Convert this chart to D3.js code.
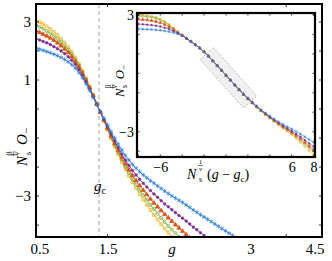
<!DOCTYPE html>
<html>
<head>
<meta charset="utf-8">
<script src="https://cdnjs.cloudflare.com/ajax/libs/d3/7.8.5/d3.min.js"></script>
<style>
  body { margin: 0; background: #fff; }
  svg { display: block; font-family: "Liberation Serif", "Times New Roman", serif; }
</style>
</head>
<body>
<svg id="chart" width="332" height="261"></svg>
<script>
// main panel: g grid and N_s^{beta/nu} O_- for five system sizes
const gGrid = [0.45, 0.50, 0.55, 0.60, 0.65, 0.70, 0.75, 0.80, 0.85, 0.90, 0.95, 1.00, 1.05, 1.10, 1.15,
  1.20, 1.25, 1.30, 1.35, 1.40, 1.45, 1.50, 1.55, 1.60, 1.65, 1.70, 1.75, 1.80, 1.85, 1.90, 1.95,
  2.00, 2.05, 2.10, 2.15, 2.20, 2.25, 2.30, 2.35, 2.40, 2.45, 2.50, 2.55, 2.60, 2.65, 2.70, 2.75,
  2.80, 2.85, 2.90, 2.95, 3.00, 3.05, 3.10, 3.15, 3.20, 3.25, 3.30, 3.35];
const mainYellow = [3.11, 3.06, 3.00, 2.93, 2.85, 2.76, 2.66, 2.55, 2.43, 2.29, 2.14, 1.97, 1.78, 1.56, 1.32,
  1.06, 0.78, 0.49, 0.19, -0.12, -0.42, -0.72, -1.02, -1.30, -1.57, -1.83, -2.07, -2.30, -2.52, -2.73,
  -2.93, -3.12, -3.30, -3.48, -3.65, -3.81, -3.97, -4.12, -4.27, -4.41, -4.55];
const mainGreen = [2.94, 2.89, 2.83, 2.77, 2.69, 2.61, 2.52, 2.42, 2.31, 2.19, 2.05, 1.89, 1.71, 1.51, 1.28,
  1.03, 0.75, 0.47, 0.18, -0.11, -0.40, -0.69, -0.98, -1.25, -1.51, -1.75, -1.99, -2.20, -2.41, -2.61,
  -2.79, -2.97, -3.13, -3.30, -3.45, -3.60, -3.75, -3.89, -4.03, -4.15, -4.28, -4.41, -4.53];
const mainRed = [2.74, 2.70, 2.64, 2.58, 2.52, 2.45, 2.37, 2.28, 2.18, 2.07, 1.95, 1.80, 1.64, 1.45, 1.23,
  0.99, 0.73, 0.46, 0.17, -0.11, -0.38, -0.66, -0.93, -1.19, -1.43, -1.67, -1.89, -2.09, -2.29, -2.47,
  -2.64, -2.80, -2.95, -3.10, -3.24, -3.37, -3.50, -3.63, -3.75, -3.87, -3.99, -4.10, -4.21, -4.33,
  -4.44, -4.55];
const mainPurple = [2.47, 2.43, 2.38, 2.33, 2.28, 2.22, 2.15, 2.08, 2.00, 1.91, 1.80, 1.68, 1.54, 1.36, 1.16,
  0.93, 0.69, 0.43, 0.16, -0.10, -0.35, -0.61, -0.86, -1.10, -1.33, -1.55, -1.76, -1.94, -2.12, -2.27,
  -2.42, -2.56, -2.69, -2.81, -2.93, -3.04, -3.16, -3.27, -3.37, -3.47, -3.57, -3.67, -3.76, -3.86,
  -3.96, -4.07, -4.16, -4.26, -4.36, -4.45, -4.55];
const mainBlue = [2.14, 2.10, 2.06, 2.02, 1.98, 1.94, 1.89, 1.84, 1.78, 1.71, 1.63, 1.53, 1.41, 1.26, 1.08,
  0.87, 0.64, 0.40, 0.15, -0.09, -0.32, -0.55, -0.78, -1.00, -1.21, -1.41, -1.60, -1.76, -1.91, -2.04,
  -2.16, -2.27, -2.37, -2.47, -2.56, -2.65, -2.74, -2.83, -2.91, -2.99, -3.07, -3.15, -3.22, -3.31,
  -3.39, -3.48, -3.56, -3.64, -3.72, -3.80, -3.88, -3.96, -4.04, -4.12, -4.20, -4.28, -4.36, -4.44, -4.52];

// inset: scaled variable N_s^{1/nu}(g - g_c)
const vGrid = [-8.4, -8.0, -7.6, -7.2, -6.8, -6.4, -6.0, -5.6, -5.2, -4.8, -4.4, -4.0, -3.6, -3.2, -2.8,
  -2.4, -2.0, -1.6, -1.2, -0.8, -0.4, 0.0, 0.4, 0.8, 1.2, 1.6, 2.0, 2.4, 2.8, 3.2, 3.6, 4.0, 4.4, 4.8,
  5.2, 5.6, 6.0, 6.4, 6.8, 7.2, 7.6, 8.0, 8.4];
const insetYellow = [3.03, 3.02, 3.00, 2.97, 2.93, 2.87, 2.79, 2.67, 2.51, 2.32, 2.13, 1.96, 1.79, 1.64, 1.48,
  1.31, 1.11, 0.89, 0.65, 0.40, 0.15, -0.10, -0.35, -0.61, -0.85, -1.09, -1.32, -1.53, -1.74, -1.94,
  -2.13, -2.30, -2.47, -2.65, -2.83, -2.98, -3.15, -3.34, -3.54, -3.76, -3.98, -4.20, -4.42];
const insetGreen = [2.97, 2.96, 2.94, 2.91, 2.88, 2.82, 2.74, 2.63, 2.48, 2.30, 2.12, 1.96, 1.79, 1.64, 1.48,
  1.30, 1.11, 0.88, 0.64, 0.40, 0.15, -0.10, -0.35, -0.60, -0.84, -1.08, -1.31, -1.52, -1.73, -1.92,
  -2.11, -2.28, -2.44, -2.61, -2.78, -2.92, -3.08, -3.26, -3.44, -3.64, -3.84, -4.04, -4.24];
const insetRed = [2.79, 2.78, 2.76, 2.74, 2.71, 2.66, 2.60, 2.51, 2.39, 2.24, 2.09, 1.95, 1.79, 1.63, 1.47,
  1.30, 1.10, 0.88, 0.64, 0.39, 0.15, -0.10, -0.35, -0.60, -0.84, -1.08, -1.30, -1.51, -1.71, -1.91,
  -2.09, -2.26, -2.42, -2.58, -2.74, -2.88, -3.03, -3.19, -3.36, -3.55, -3.74, -3.92, -4.11];
const insetPurple = [2.54, 2.53, 2.52, 2.50, 2.48, 2.45, 2.41, 2.35, 2.27, 2.17, 2.06, 1.94, 1.79, 1.63, 1.47,
  1.29, 1.10, 0.88, 0.64, 0.39, 0.15, -0.10, -0.35, -0.60, -0.84, -1.08, -1.29, -1.50, -1.70, -1.89,
  -2.07, -2.23, -2.39, -2.54, -2.69, -2.82, -2.96, -3.11, -3.26, -3.43, -3.60, -3.76, -3.93];
const insetBlue = [2.29, 2.28, 2.27, 2.26, 2.25, 2.23, 2.21, 2.18, 2.14, 2.09, 2.02, 1.93, 1.79, 1.62, 1.46,
  1.29, 1.09, 0.87, 0.63, 0.39, 0.15, -0.10, -0.35, -0.59, -0.83, -1.07, -1.28, -1.48, -1.68, -1.87,
  -2.04, -2.20, -2.35, -2.49, -2.62, -2.74, -2.86, -2.99, -3.12, -3.26, -3.40, -3.54, -3.68];

// critical point and the dashed window drawn in the inset
const gCritical = 1.38;
const windowV = [-1.13, -2.36, 1.59, 2.81];
const windowO = [1.32, 0.71, -1.78, -1.17];

// tick values / labels
const mainXTicks = [0.5, 1.5, 3.5, 4.5];
const mainXLabels = ["0.5", "1.5", "3", "4.5"];
const mainXMinor = [1.5, 4.0];
const mainYTicks = [3, 1, -3];
const mainYMinor = [-4, -3, -2, -1, 0, 1, 2, 3];
const insetXTicks = [-6, 6, 8];
const insetXMinor = [-8, -6, -4, -2, 0, 2, 4, 6, 8];
const insetYTicks = [3, -3];
const insetYMinor = [-4, -3, -2, -1, 0, 1, 2, 3];

const colors = ["#EDB120", "#77AC30", "#D95319", "#7E2F8E", "#2A7DD1"];
const markerTypes = [d3.symbolSquare, d3.symbolCircle, d3.symbolTriangle, d3.symbolCircle, d3.symbolAsterisk || d3.symbolCross];
const markerFilled = [false, false, true, true, false];
const markerSize = [8, 8, 8, 5, 14];

const svg = d3.select("#chart");

const x = d3.scaleLinear().domain([0.5, 4.5]).range([36, 322]);
const y = d3.scaleLinear().domain([-4.41, 3.62]).range([237, 4]);
const xi = d3.scaleLinear().domain([-8.13, 8.13]).range([137, 315]);
const yi = d3.scaleLinear().domain([-4.3, 3.1]).range([157, 13]);

const defs = svg.append("defs");
defs.append("clipPath").attr("id", "clipMain").append("rect")
  .attr("x", 36).attr("y", 4).attr("width", 286).attr("height", 233);
defs.append("clipPath").attr("id", "clipInset").append("rect")
  .attr("x", 137).attr("y", 13).attr("width", 178).attr("height", 144);

function drawSeries(layer, xs, series, sx, sy, k) {
  series.forEach((vals, i) => {
    const pts = vals.map((v, j) => [xs[j], v]);
    layer.append("path").datum(pts)
      .attr("fill", "none")
      .attr("stroke", colors[i])
      .attr("stroke-width", 0.9 * k)
      .attr("d", d3.line().x(d => sx(d[0])).y(d => sy(d[1])));
    layer.selectAll(null).data(pts).enter().append("path")
      .attr("transform", d => `translate(${sx(d[0])},${sy(d[1])})`)
      .attr("d", d3.symbol().type(markerTypes[i]).size(markerSize[i] * k * k))
      .attr("fill", markerFilled[i] ? colors[i] : "none")
      .attr("stroke", colors[i])
      .attr("stroke-width", 0.7 * k);
  });
}

function minorTicks(sx, sy, xs, ys, len) {
  const [x0, x1] = sx.range();
  const [y0, y1] = sy.range();
  const g = svg.append("g").attr("stroke", "#000").attr("stroke-width", 0.8);
  xs.forEach(v => {
    g.append("line").attr("x1", sx(v)).attr("x2", sx(v)).attr("y1", y0).attr("y2", y0 - len);
    g.append("line").attr("x1", sx(v)).attr("x2", sx(v)).attr("y1", y1).attr("y2", y1 + len);
  });
  ys.forEach(v => {
    g.append("line").attr("y1", sy(v)).attr("y2", sy(v)).attr("x1", x0).attr("x2", x0 + len);
    g.append("line").attr("y1", sy(v)).attr("y2", sy(v)).attr("x1", x1).attr("x2", x1 - len);
  });
}

function styleAxis(ax, size) {
  ax.attr("font-family", null).attr("font-size", null);
  ax.select(".domain").remove();
  ax.selectAll("text").attr("font-size", size).attr("fill", "#000");
}

// === MAIN PANEL ===
svg.append("line")
  .attr("x1", x(gCritical)).attr("x2", x(gCritical))
  .attr("y1", y.range()[1]).attr("y2", y.range()[0])
  .attr("stroke", "#d0d0d0").attr("stroke-width", 2).attr("stroke-dasharray", "4 3");

const mainLayer = svg.append("g").attr("clip-path", "url(#clipMain)");
drawSeries(mainLayer, gGrid, [mainYellow, mainGreen, mainRed, mainPurple, mainBlue], x, y, 1);

minorTicks(x, y, mainXMinor, mainYMinor, 3);

svg.append("rect").attr("x", 36).attr("y", 4).attr("width", 286).attr("height", 233)
  .attr("fill", "none").attr("stroke", "#000").attr("stroke-width", 2);

const xAxis = svg.append("g").attr("transform", "translate(0,237)")
  .call(d3.axisBottom(x).tickValues(mainXTicks).tickFormat((d, i) => mainXLabels[i]).tickSize(0).tickPadding(6));
styleAxis(xAxis, 15);
xAxis.selectAll(".tick text").filter((d, i) => i === 0).attr("text-anchor", "start").attr("x", -6);
xAxis.selectAll(".tick text").filter((d, i) => i === mainXTicks.length - 1).attr("text-anchor", "end").attr("x", 2);

const yAxis = svg.append("g").attr("transform", "translate(36,0)")
  .call(d3.axisLeft(y).tickValues(mainYTicks).tickSize(0).tickPadding(5));
styleAxis(yAxis, 15);

svg.append("text").attr("x", 172).attr("y", 254).attr("text-anchor", "middle")
  .attr("font-size", 15).attr("font-style", "italic").text("g");

const gcLabel = svg.append("text").attr("x", x(gCritical) + 1).attr("y", 191)
  .attr("text-anchor", "middle").attr("font-size", 15);
gcLabel.append("tspan").attr("font-style", "italic").text("g");
gcLabel.append("tspan").attr("font-size", 10).attr("dy", 3).text("c");

function orderLabel(tx, ty, k) {
  const lab = svg.append("g").attr("transform", `translate(${tx},${ty}) rotate(-90)`);
  const fs = 15 * k;
  lab.append("text").attr("x", -26 * k).attr("font-size", fs).attr("font-style", "italic").text("N");
  lab.append("text").attr("x", -13.5 * k).attr("y", -15 * k).attr("font-size", 9 * k).attr("text-anchor", "middle").text("β");
  lab.append("line").attr("x1", -16 * k).attr("x2", -11 * k).attr("y1", -13.2 * k).attr("y2", -13.2 * k)
    .attr("stroke", "#000").attr("stroke-width", 0.6);
  lab.append("text").attr("x", -13.5 * k).attr("y", -8.5 * k).attr("font-size", 9 * k).attr("text-anchor", "middle")
    .attr("font-style", "italic").text("ν");
  lab.append("text").attr("x", -13.5 * k).attr("y", 3.5 * k).attr("font-size", 9 * k).attr("text-anchor", "middle").text("s");
  lab.append("text").attr("x", -5 * k).attr("font-size", fs).attr("font-style", "italic").text("O");
  lab.append("text").attr("x", 6 * k).attr("y", 3 * k).attr("font-size", 11 * k).text("−");
}
orderLabel(27, 140, 1);

// === INSET ===
svg.append("rect").attr("x", 137).attr("y", 13).attr("width", 178).attr("height", 144).attr("fill", "#fff");

const windowPts = windowV.map((v, i) => [xi(v), yi(windowO[i])]);
svg.append("polygon")
  .attr("points", windowPts.map(p => p.join(",")).join(" "))
  .attr("fill", "#f0f0f0").attr("stroke", "#bdbdbd").attr("stroke-width", 1).attr("stroke-dasharray", "2 1.5");

const insetLayer = svg.append("g").attr("clip-path", "url(#clipInset)");
drawSeries(insetLayer, vGrid, [insetYellow, insetGreen, insetRed, insetPurple, insetBlue], xi, yi, 0.7);

minorTicks(xi, yi, insetXMinor, insetYMinor, 2.5);

svg.append("rect").attr("x", 137).attr("y", 13).attr("width", 178).attr("height", 144)
  .attr("fill", "none").attr("stroke", "#000").attr("stroke-width", 2.2);

const xiAxis = svg.append("g").attr("transform", "translate(0,157)")
  .call(d3.axisBottom(xi).tickValues(insetXTicks).tickSize(0).tickPadding(5));
styleAxis(xiAxis, 14);

const yiAxis = svg.append("g").attr("transform", "translate(137,0)")
  .call(d3.axisLeft(yi).tickValues(insetYTicks).tickSize(0).tickPadding(3));
styleAxis(yiAxis, 14);

orderLabel(124, 75, 0.85);

const sx = svg.append("g").attr("font-size", 14);
sx.append("text").attr("x", 187).attr("y", 179).attr("font-style", "italic").text("N");
sx.append("text").attr("x", 200.5).attr("y", 164).attr("font-size", 7).attr("text-anchor", "middle").text("1");
sx.append("line").attr("x1", 198).attr("x2", 203).attr("y1", 165.5).attr("y2", 165.5)
  .attr("stroke", "#000").attr("stroke-width", 0.5);
sx.append("text").attr("x", 200.5).attr("y", 171).attr("font-size", 7).attr("text-anchor", "middle")
  .attr("font-style", "italic").text("ν");
sx.append("text").attr("x", 200.5).attr("y", 182).attr("font-size", 8).attr("text-anchor", "middle").text("s");
const arg = sx.append("text").attr("x", 207).attr("y", 179);
arg.append("tspan").text("(");
arg.append("tspan").attr("font-style", "italic").text("g");
arg.append("tspan").text(" − ");
arg.append("tspan").attr("font-style", "italic").text("g");
arg.append("tspan").attr("font-size", 9).attr("dy", 3).text("c");
arg.append("tspan").attr("dy", -3).text(")");
</script>
</body>
</html>
